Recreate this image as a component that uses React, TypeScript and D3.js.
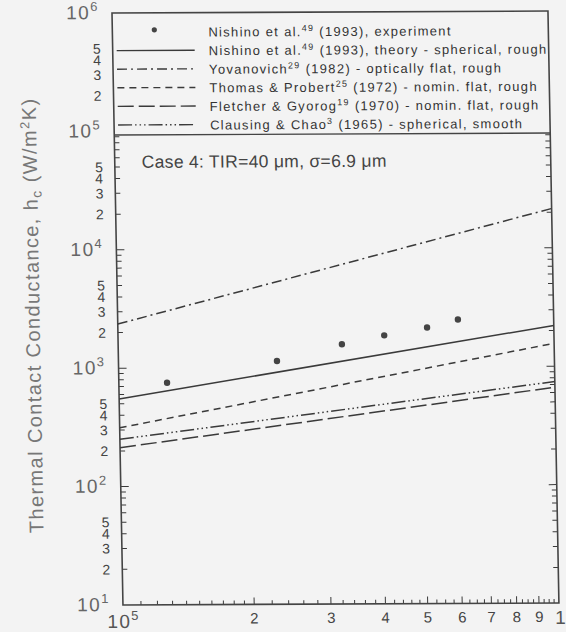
import React from "react";
import * as d3 from "d3";

// ---------- data ----------
const xDomain = [1e5, 1e6];
const yDomain = [10, 1e6];

const expX = [1.29e5, 2.31e5, 3.26e5, 4.08e5, 5.12e5, 6.03e5];
const expY = [750, 1135, 1560, 1850, 2150, 2500];

const lineX = [1e5, 1e6];
const nishinoTheory = [550, 2210];
const yovanovich = [2360, 21500];
const thomasProbert = [314, 1560];
const fletcherGyorog = [213, 665];
const clausingChao = [251, 743];

const legendMain = [
  "Nishino et al.",
  "Nishino et al.",
  "Yovanovich",
  "Thomas & Probert",
  "Fletcher & Gyorog",
  "Clausing & Chao",
];
const legendSup = ["49", "49", "29", "25", "19", "3"];
const legendRest = [
  " (1993), experiment",
  " (1993), theory - spherical, rough",
  " (1982) - optically flat, rough",
  " (1972) - nomin. flat, rough",
  " (1970) - nomin. flat, rough",
  " (1965) - spherical, smooth",
];

const yMinorLabels = [5, 4, 3, 2];
const xMinorLabels = [2, 3, 4, 5, 6, 7, 8, 9];
const caseText = "Case 4: TIR=40 \u03bcm, \u03c3=6.9 \u03bcm";

// ---------- layout ----------
const W = 436;
const H = 592;
const LEG_H = 122;
const INK = "#3a3a3a";

const dashes = {
  solid: "none",
  dashDot: "10,4,2,4",
  dashed: "7,5",
  longDash: "16,5",
  dashDotDot: "14,3,1.5,3,1.5,3,1.5,3",
};

export default function App() {
  const x = d3.scaleLog().domain(xDomain).range([0, W]);
  const y = d3.scaleLog().domain(yDomain).range([H, 0]);
  const line = d3
    .line<[number, number]>()
    .x((d) => x(d[0]))
    .y((d) => y(d[1]));

  const series = [
    { vals: nishinoTheory, dash: dashes.solid },
    { vals: yovanovich, dash: dashes.dashDot },
    { vals: thomasProbert, dash: dashes.dashed },
    { vals: fletcherGyorog, dash: dashes.longDash },
    { vals: clausingChao, dash: dashes.dashDotDot },
  ];
  const legendDash = [null, dashes.solid, dashes.dashDot, dashes.dashed, dashes.longDash, dashes.dashDotDot];

  // y ticks
  const yTicks: { v: number; major: boolean }[] = [];
  for (let e = 1; e <= 6; e++) {
    for (let m = 1; m <= 9; m++) {
      const v = m * Math.pow(10, e);
      if (v > 1e6) break;
      yTicks.push({ v, major: m === 1 });
    }
  }
  // x ticks
  const xTicks: { v: number; major: boolean }[] = [];
  const addX = (from: number, to: number, step: number) => {
    for (let m = from; m < to - 1e-9; m += step) {
      const mm = Math.round(m * 100) / 100;
      xTicks.push({ v: mm * 1e5, major: Math.abs(mm - Math.round(mm)) < 1e-6 });
    }
  };
  addX(1, 2, 0.1);
  addX(2, 5, 0.2);
  addX(5, 10.001, 0.25);

  const yLabelDecades = [1, 2, 3, 4, 5, 6];

  return (
    <svg
      width={566}
      height={632}
      style={{ position: "absolute", left: 0, top: 0, background: "#f3f3f3" }}
      fontFamily="'Liberation Sans', Arial, sans-serif"
    >
      <rect x={0} y={0} width={566} height={632} fill="#f3f3f3" />
      <g transform="translate(112,13) skewX(1.06) skewY(-0.26)">
        <defs>
          <clipPath id="plotclip">
            <rect x={0} y={LEG_H} width={W} height={H - LEG_H} />
          </clipPath>
        </defs>

        {/* y ticks */}
        {yTicks
          .filter((t) => y(t.v) > LEG_H + 1 && y(t.v) < H - 0.5)
          .map((t, i) => {
            const len = t.major ? 8 : 5;
            const yy = y(t.v);
            return (
              <g key={"yt" + i} stroke={INK} strokeWidth={1}>
                <line x1={0} x2={len} y1={yy} y2={yy} />
                <line x1={W} x2={W - len} y1={yy} y2={yy} />
              </g>
            );
          })}

        {/* x ticks */}
        {xTicks
          .filter((t) => x(t.v) > 0.5 && x(t.v) < W - 0.5)
          .map((t, i) => {
            const len = t.major ? 7 : 4;
            const xx = x(t.v);
            return <line key={"xt" + i} x1={xx} x2={xx} y1={H} y2={H - len} stroke={INK} strokeWidth={1} />;
          })}

        {/* frame */}
        <rect x={0} y={0} width={W} height={H} fill="none" stroke="#444" strokeWidth={1.6} />
        <line x1={0} x2={W} y1={LEG_H} y2={LEG_H} stroke="#444" strokeWidth={1.4} />

        {/* series lines */}
        <g clipPath="url(#plotclip)">
          {series.map((s, i) => (
            <path
              key={"s" + i}
              d={line(lineX.map((xv, j) => [xv, s.vals[j]] as [number, number])) || ""}
              fill="none"
              stroke={INK}
              strokeWidth={1.5}
              strokeDasharray={s.dash}
            />
          ))}
          {expX.map((xv, i) => (
            <circle key={"p" + i} cx={x(xv)} cy={y(expY[i])} r={3.2} fill="#444" />
          ))}
        </g>

        {/* legend */}
        {legendMain.map((m, i) => {
          const ly = 19 + i * 18.6;
          return (
            <g key={"lg" + i}>
              {legendDash[i] === null ? (
                <circle cx={42} cy={ly - 2} r={2.6} fill="#444" />
              ) : (
                <line
                  x1={4}
                  x2={82}
                  y1={ly}
                  y2={ly}
                  stroke={INK}
                  strokeWidth={1.4}
                  strokeDasharray={legendDash[i] as string}
                />
              )}
              <text x={96} y={ly + 5} fontSize={13} letterSpacing={1.3} fill="#333">
                {m}
                <tspan fontSize={9} dy={-5}>
                  {legendSup[i]}
                </tspan>
                <tspan dy={5}>{legendRest[i]}</tspan>
              </text>
            </g>
          );
        })}

        {/* case text */}
        <text x={27} y={155} fontSize={17.5} fill="#444" letterSpacing={0.3}>
          {caseText}
        </text>

        {/* y labels */}
        {yLabelDecades.map((e) => (
          <text key={"yl" + e} x={-13} y={y(Math.pow(10, e)) + 6} fontSize={19} fill="#666" textAnchor="end" letterSpacing={1.5}>
            10
            <tspan fontSize={13} dy={-8}>
              {e}
            </tspan>
          </text>
        ))}
        {[1, 2, 3, 4, 5].map((e) =>
          yMinorLabels.map((m) => (
            <text
              key={"ym" + e + "_" + m}
              x={-12}
              y={y(m * Math.pow(10, e)) + 5}
              fontSize={14}
              fill="#444"
              textAnchor="end"
            >
              {m}
            </text>
          ))
        )}

        {/* x labels */}
        {xMinorLabels.map((m) => (
          <text key={"xl" + m} x={x(m * 1e5)} y={H + 19} fontSize={15} fill="#444" textAnchor="middle">
            {m}
          </text>
        ))}
        <text x={x(1e5) - 16} y={H + 23} fontSize={19} fill="#555" letterSpacing={1.5}>
          10
          <tspan fontSize={13} dy={-8}>
            5
          </tspan>
        </text>
        <text x={x(1e6) - 4} y={H + 21} fontSize={19} fill="#555" letterSpacing={1.5}>
          10
          <tspan fontSize={13} dy={-8}>
            6
          </tspan>
        </text>

        {/* y title */}
        <text
          transform="translate(-78,302) rotate(-90)"
          textAnchor="middle"
          fontSize={20}
          letterSpacing={1.4}
          fill="#777"
        >
          Thermal Contact Conductance, h
          <tspan fontSize={14} dy={4}>
            c
          </tspan>
          <tspan dy={-4}> (W/m</tspan>
          <tspan fontSize={13} dy={-7}>
            2
          </tspan>
          <tspan dy={7}>K)</tspan>
        </text>
      </g>
    </svg>
  );
}
